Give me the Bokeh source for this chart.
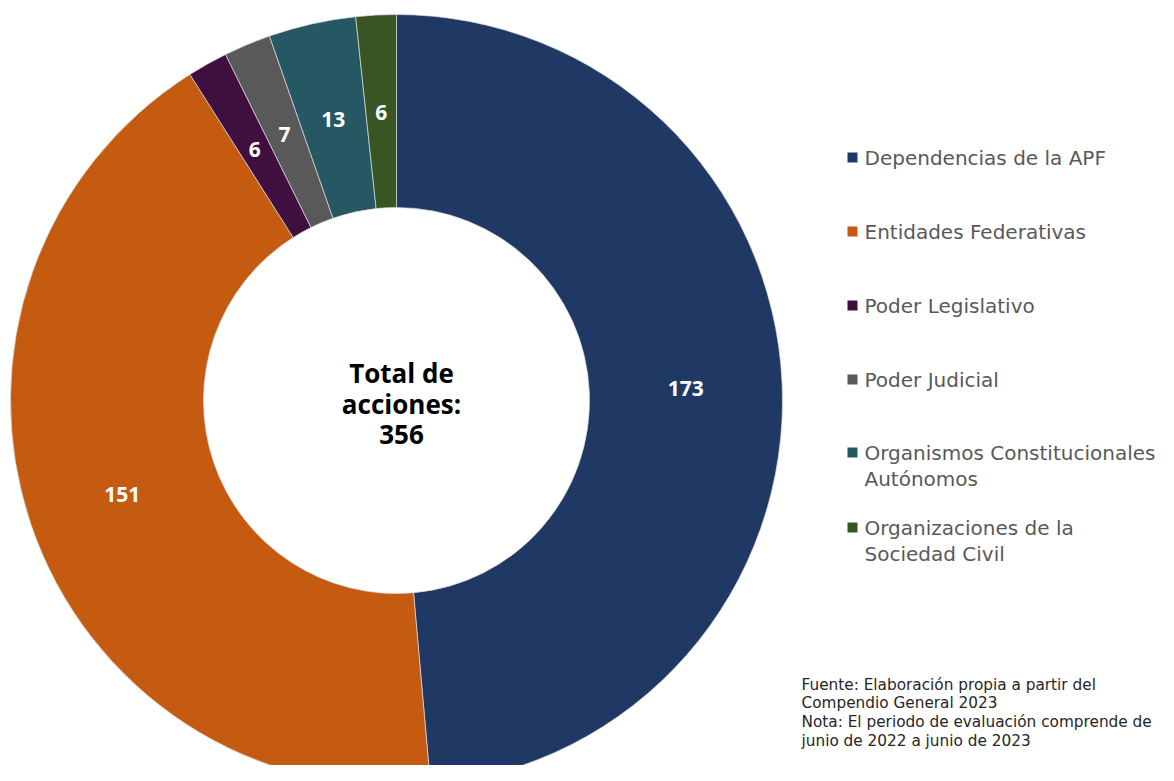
import numpy as np
from bokeh.plotting import figure
from bokeh.models import Range1d, ColumnDataSource
from bokeh.core.properties import value
from bokeh.embed import file_html
from bokeh.resources import INLINE

categories = ["Dependencias de la APF", "Entidades Federativas", "Poder Legislativo",
              "Poder Judicial", "Organismos Constitucionales Autónomos",
              "Organizaciones de la Sociedad Civil"]
legend_lines = [["Dependencias de la APF"], ["Entidades Federativas"], ["Poder Legislativo"],
                ["Poder Judicial"], ["Organismos Constitucionales", "Autónomos"],
                ["Organizaciones de la", "Sociedad Civil"]]
values = [173, 151, 6, 7, 13, 6]
colors = ["#203864", "#C55A11", "#3F0F3F", "#595959", "#255862", "#375623"]
center_lines = ["Total de", "acciones:", str(sum(values))]
note_lines = ["Fuente: Elaboración propia a partir del", "Compendio General 2023",
              "Nota: El periodo de evaluación comprende de", "junio de 2022 a junio de 2023"]

FONT = "Open Sans"
FONT2 = "DejaVu Sans"
W, H = 1158, 765
H_PAGE = 781

p = figure(width=W, height=H, output_backend="svg", toolbar_location=None,
           x_range=Range1d(0, W), y_range=Range1d(H_PAGE - H, H_PAGE),
           min_border=0)
p.axis.visible = False
p.grid.visible = False
p.outline_line_color = None
p.background_fill_color = "white"
p.border_fill_color = "white"

def Y(ref_y):
    return H_PAGE - ref_y

cx, cy = 396, Y(400)
r_out, r_in = 386, 193

vals = np.array(values, dtype=float)
frac = vals / vals.sum()
cum = np.concatenate([[0], np.cumsum(frac)])
# clockwise from top
start_ang = np.pi / 2 - cum[1:] * 2 * np.pi
end_ang = np.pi / 2 - cum[:-1] * 2 * np.pi
src = ColumnDataSource(dict(start=start_ang, end=end_ang, color=colors))
p.annular_wedge(x=cx, y=cy, inner_radius=r_in, outer_radius=r_out,
                start_angle="start", end_angle="end", fill_color="color",
                line_color="#dddddd", line_width=0.7, source=src)

mid = (start_ang + end_ang) / 2
r_lab = (r_in + r_out) / 2
lab_src = ColumnDataSource(dict(x=cx + r_lab * np.cos(mid), y=cy + r_lab * np.sin(mid) - 1,
                                t=[str(v) for v in values]))
p.text(x="x", y="y", text="t", source=lab_src, text_color="white",
       text_font=value(FONT), text_font_style="bold", text_font_size="21px",
       text_align="center", text_baseline="middle")

# center text
cys = [Y(372), Y(403), Y(434)]
p.text(x=[401] * 3, y=cys, text=center_lines, text_color="black",
       text_font=value(FONT), text_font_style="bold", text_font_size="26px",
       text_align="center", text_baseline="middle")

# legend
leg_y = [157, 231, 305, 379, 452, 527]
p.scatter(x=[852] * len(leg_y), y=[Y(v) for v in leg_y], marker="square", size=10,
          fill_color=colors, line_color=None)
lx, ly, lt = [], [], []
for yy, lines in zip(leg_y, legend_lines):
    for i, t in enumerate(lines):
        lx.append(864)
        ly.append(Y(yy + i * 26))
        lt.append(t)
p.text(x=lx, y=ly, text=lt, text_color="#595959", text_font=value(FONT2),
       text_font_size="20px", text_align="left", text_baseline="middle")

# notes
ny = [684, 702, 721, 740]
p.text(x=[801] * 4, y=[Y(v) for v in ny], text=note_lines, text_color="#262626",
       text_font=value(FONT2), text_font_size="15.3px", text_align="left",
       text_baseline="middle")

open("out.html", "w").write(file_html(p, INLINE))
